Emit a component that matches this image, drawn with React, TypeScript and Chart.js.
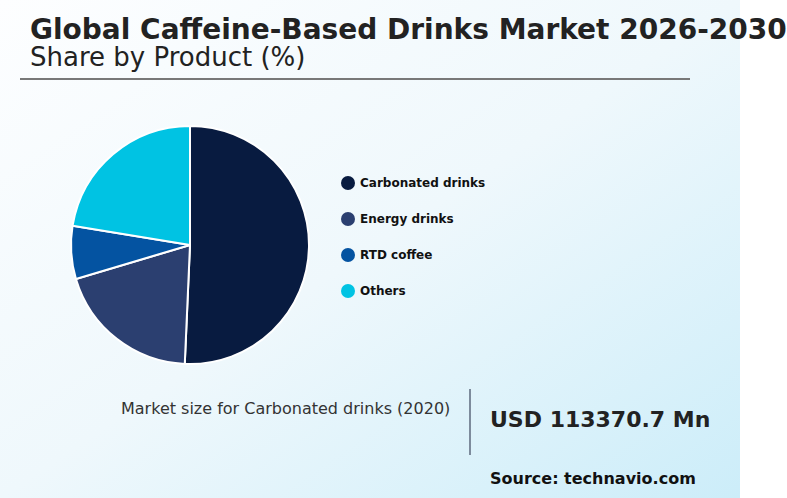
import React, { useEffect, useRef } from "react";
import { Chart, registerables } from "chart.js";

Chart.register(...registerables);

const categories = ["Carbonated drinks", "Energy drinks", "RTD coffee", "Others"];
const shares = [50.7, 19.7, 7.2, 22.4];
const colors = ["#081b40", "#2b3f70", "#0453a1", "#00c3e3"];

const titleText = "Global Caffeine-Based Drinks Market 2026-2030";
const subtitleText = "Share by Product (%)";
const marketLabel = "Market size for Carbonated drinks (2020)";
const marketValue = "USD 113370.7 Mn";
const sourceText = "Source: technavio.com";

const FONT = "'DejaVu Sans', sans-serif";

export default function App() {
  const canvasRef = useRef<HTMLCanvasElement | null>(null);

  useEffect(() => {
    document.body.style.margin = "0";
    const ctx = canvasRef.current!.getContext("2d")!;
    const chart = new Chart(ctx, {
      type: "pie",
      data: {
        labels: categories,
        datasets: [
          {
            data: shares,
            backgroundColor: colors,
            borderColor: "#ffffff",
            borderWidth: 2,
            radius: 119,
          } as any,
        ],
      },
      options: {
        responsive: false,
        animation: false,
        layout: { padding: 0 },
        plugins: { legend: { display: false }, tooltip: { enabled: false } },
      },
    });
    return () => chart.destroy();
  }, []);

  return (
    <div
      style={{
        position: "fixed",
        left: 0,
        top: 0,
        width: 787,
        height: 498,
        background: "#ffffff",
        overflow: "hidden",
        fontFamily: FONT,
      }}
    >
      <div
        style={{
          position: "absolute",
          left: 0,
          top: 0,
          width: 740,
          height: 498,
          background: "linear-gradient(to bottom right, #fdfeff 0%, #eff8fc 50%, #ccedf9 100%)",
        }}
      />
      <div
        style={{
          position: "absolute",
          left: 30,
          top: 17,
          fontSize: 28,
          fontWeight: "bold",
          color: "#222222",
          whiteSpace: "nowrap",
          lineHeight: "26px",
        }}
      >
        {titleText}
      </div>
      <div
        style={{
          position: "absolute",
          left: 30,
          top: 46,
          fontSize: 26,
          color: "#222222",
          whiteSpace: "nowrap",
          lineHeight: "22px",
        }}
      >
        {subtitleText}
      </div>
      <div
        style={{
          position: "absolute",
          left: 20,
          top: 78,
          width: 670,
          height: 2,
          background: "#787878",
        }}
      />
      <canvas
        ref={canvasRef}
        width={250}
        height={250}
        style={{ position: "absolute", left: 65, top: 120, width: 250, height: 250 }}
      />
      {categories.map((c, i) => (
        <div
          key={c}
          style={{
            position: "absolute",
            left: 341,
            top: 175 + i * 36,
            height: 16,
            display: "flex",
            alignItems: "center",
            whiteSpace: "nowrap",
          }}
        >
          <span
            style={{
              display: "inline-block",
              width: 14,
              height: 14,
              borderRadius: 7,
              background: colors[i],
              marginRight: 5,
            }}
          />
          <span style={{ fontSize: 12, fontWeight: "bold", color: "#111111" }}>{c}</span>
        </div>
      ))}
      <div
        style={{
          position: "absolute",
          left: 121,
          top: 399,
          fontSize: 16,
          color: "#333333",
          whiteSpace: "nowrap",
          lineHeight: "20px",
        }}
      >
        {marketLabel}
      </div>
      <div
        style={{
          position: "absolute",
          left: 469,
          top: 389,
          width: 2,
          height: 66,
          background: "#7d8b9c",
        }}
      />
      <div
        style={{
          position: "absolute",
          left: 490,
          top: 406,
          fontSize: 22,
          fontWeight: "bold",
          color: "#222222",
          whiteSpace: "nowrap",
          lineHeight: "28px",
        }}
      >
        {marketValue}
      </div>
      <div
        style={{
          position: "absolute",
          left: 490,
          top: 469,
          fontSize: 16,
          fontWeight: "bold",
          color: "#111111",
          whiteSpace: "nowrap",
          lineHeight: "20px",
        }}
      >
        {sourceText}
      </div>
    </div>
  );
}
